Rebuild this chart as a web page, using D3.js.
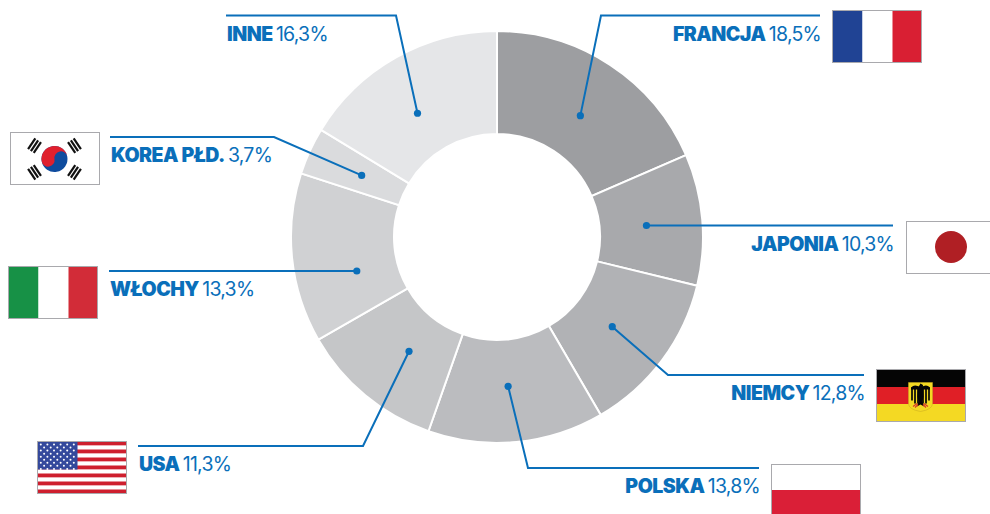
<!DOCTYPE html>
<head>
<meta charset="utf-8" />
<style>
html, body { margin: 0; padding: 0; background: #fff; overflow: hidden; }
svg { display: block; }
.name { font-weight: 900; letter-spacing: -0.5px; }
.share { font-weight: 400; letter-spacing: -0.75px; word-spacing: -1.5px; }
text { font-family: Inter, sans-serif; font-size: 19.5px; fill: #0a6fba; }
</style>
</head>
<body>
<script src="https://cdn.jsdelivr.net/npm/d3@7"></script>
<script>
var categories = ["FRANCJA", "JAPONIA", "NIEMCY", "POLSKA", "USA", "WŁOCHY", "KOREA PŁD.", "INNE"];
var shares = [18.5, 10.3, 12.8, 13.8, 11.3, 13.3, 3.7, 16.3];
var sliceColors = ["#9d9ea1", "#a8a9ac", "#b1b2b5", "#bbbcbf", "#c5c6c8", "#d0d1d3", "#dadbdd", "#e5e6e8"];
var flagNames = ["fr", "jp", "de", "pl", "us", "it", "kr", null];

// leader line and label layout, same order as categories
var lineY = [15.5, 225.5, 375, 468, 446, 271, 137, 15.5];
var lineEnd = [820, 893, 864, 759, 138, 109, 110, 226];
var elbowX = [601, null, 668, 528, 363, null, 274, 396];
var dotNudge = [[1, 4], [0, 0], [-5, 0], [-3, 0], [8, -1], [9, 17], [1, 1], [-6, 7]];
var flagPos = [[832.5, 10.5], [906.5, 221.5], [876.5, 369.5], [771.5, 464.5], [37.5, 441.5], [8.5, 266.5], [10.5, 132.5], null];

var width = 990, height = 514;
var cx = 497, cy = 237, outer = 206, inner = 103;
var flagW = 89, flagH = 52;
var blue = "#0a6fba";

var svg = d3.select("body").append("svg").attr("width", width).attr("height", height);

var pie = d3.pie().sort(null).value(function(d) { return d; });
var arc = d3.arc().innerRadius(inner).outerRadius(outer);
var midArc = d3.arc().innerRadius(150).outerRadius(150);
var arcs = pie(shares);

var ring = svg.append("g").attr("transform", "translate(" + cx + "," + cy + ")");
ring.selectAll("path")
	.data(arcs)
	.enter().append("path")
	.attr("d", arc)
	.attr("fill", function(d, i) { return sliceColors[i]; })
	.attr("stroke", "#fff")
	.attr("stroke-width", 2);

// leaders
arcs.forEach(function(d, i) {
	var c = midArc.centroid(d);
	var dot = [cx + c[0] + dotNudge[i][0], cy + c[1] + dotNudge[i][1]];
	var pts = [[lineEnd[i], lineY[i]]];
	if (elbowX[i] !== null) pts.push([elbowX[i], lineY[i]]);
	else dot[1] = lineY[i];
	pts.push(dot);
	svg.append("path")
		.attr("d", d3.line()(pts))
		.attr("fill", "none")
		.attr("stroke", blue)
		.attr("stroke-width", 2);
	svg.append("circle")
		.attr("cx", dot[0]).attr("cy", dot[1]).attr("r", 3.6)
		.attr("fill", blue);

	var rightSide = lineEnd[i] > cx;
	var t = svg.append("text")
		.attr("x", lineEnd[i] + 1)
		.attr("y", Math.round(lineY[i]) + 25)
		.attr("text-anchor", rightSide ? "end" : "start");
	t.append("tspan").attr("class", "name").text(categories[i]);
	t.append("tspan").attr("class", "share").text(" " + shares[i].toFixed(1).replace(".", ",") + "%");
});

// flags
function rect(g, x, y, w, h, fill) {
	return g.append("rect").attr("x", x).attr("y", y).attr("width", w).attr("height", h).attr("fill", fill);
}

var flagDraw = {
	fr: function(g) {
		rect(g, 0, 0, 30, flagH, "#204394");
		rect(g, 30, 0, 30, flagH, "#fff");
		rect(g, 60, 0, 29, flagH, "#d91f33");
	},
	it: function(g) {
		rect(g, 0, 0, 30, flagH, "#179146");
		rect(g, 30, 0, 30, flagH, "#fff");
		rect(g, 60, 0, 29, flagH, "#d22c38");
	},
	pl: function(g) {
		rect(g, 0, 0, flagW, 25.5, "#fff");
		rect(g, 0, 25.5, flagW, 26.5, "#da1f37");
	},
	jp: function(g) {
		rect(g, 0, 0, flagW, flagH, "#fff");
		g.append("circle").attr("cx", 44.5).attr("cy", 25.5).attr("r", 16).attr("fill", "#b01f24");
	},
	de: function(g) {
		rect(g, 0, 0, flagW, 17.5, "#050505");
		rect(g, 0, 17.5, flagW, 17, "#e01f26");
		rect(g, 0, 34.5, flagW, 17.5, "#f4d923");
		// shield
		g.append("path").attr("d", "M32 13H56V34Q56 40 44 42Q32 40 32 34Z")
			.attr("fill", "#f4d923").attr("stroke", "#c9a821").attr("stroke-width", 0.5);
		// eagle, wings as feather strokes
		var wing = [[35.5, 18, 31], [38.5, 16.5, 34], [41.5, 17, 34], [46.5, 17, 34], [49.5, 16.5, 34], [52.5, 18, 31]];
		wing.forEach(function(f) {
			g.append("path").attr("d", "M" + f[0] + " " + f[1] + "V" + f[2])
				.attr("stroke", "#050505").attr("stroke-width", 1.7);
		});
		g.append("path").attr("d", "M34.5 18Q38.5 14 43.5 18L44 19L45 18Q49.5 14 53.5 18L53.5 20L34.5 20Z").attr("fill", "#050505");
		g.append("path").attr("d", "M44 14L46.5 15.5L46.3 18L47 27L46 32L47.5 37L44 35L40.5 37L42 32L41 27L41.7 18Z").attr("fill", "#050505");
		g.append("path").attr("d", "M36.5 37L40.5 34M51.5 37L47.5 34M38.5 38L41.5 35M49.5 38L46.5 35")
			.attr("stroke", "#d8352a").attr("stroke-width", 1.1).attr("fill", "none");
	},
	us: function(g) {
		var sh = flagH / 13;
		d3.range(13).forEach(function(i) {
			rect(g, 0, i * sh, flagW, sh + 0.2, i % 2 ? "#fff" : "#ce1f2e");
		});
		rect(g, 0, 0, 40, sh * 7, "#34499c");
		d3.range(9).forEach(function(row) {
			var n = row % 2 ? 5 : 6;
			d3.range(n).forEach(function(c) {
				g.append("circle")
					.attr("cx", (row % 2 ? 6.6 : 3.3) + c * 6.6)
					.attr("cy", 3 + row * 3.05)
					.attr("r", 1)
					.attr("fill", "#fff");
			});
		});
	},
	kr: function(g) {
		rect(g, 0, 0, flagW, flagH, "#fff");
		var c = g.append("g").attr("transform", "translate(44,26.5) rotate(-10)");
		var r = 13;
		c.append("circle").attr("r", r).attr("fill", "#0f4c9e");
		c.append("path")
			.attr("d", "M" + -r + " 0A" + r + " " + r + " 0 0 1 " + r + " 0A" + r / 2 + " " + r / 2 + " 0 0 0 0 0A" + r / 2 + " " + r / 2 + " 0 0 1 " + -r + " 0Z")
			.attr("fill", "#e0202e");
		// four trigrams
		[-56.3, 56.3, 123.7, 236.3].forEach(function(angle) {
			var a = g.append("g").attr("transform", "translate(44,26.5) rotate(" + angle + ") translate(0,-24)");
			d3.range(3).forEach(function(k) {
				rect(a, -6.5, -4.5 + k * 3.4, 13, 2.2, "#111");
			});
		});
	}
};

flagNames.forEach(function(name, i) {
	if (!name) return;
	var g = svg.append("g").attr("transform", "translate(" + flagPos[i][0] + "," + flagPos[i][1] + ")");
	flagDraw[name](g);
	g.append("rect")
		.attr("width", flagW).attr("height", flagH)
		.attr("fill", "none")
		.attr("stroke", "#a9a9ad")
		.attr("stroke-width", 1);
});
</script>
</body>
